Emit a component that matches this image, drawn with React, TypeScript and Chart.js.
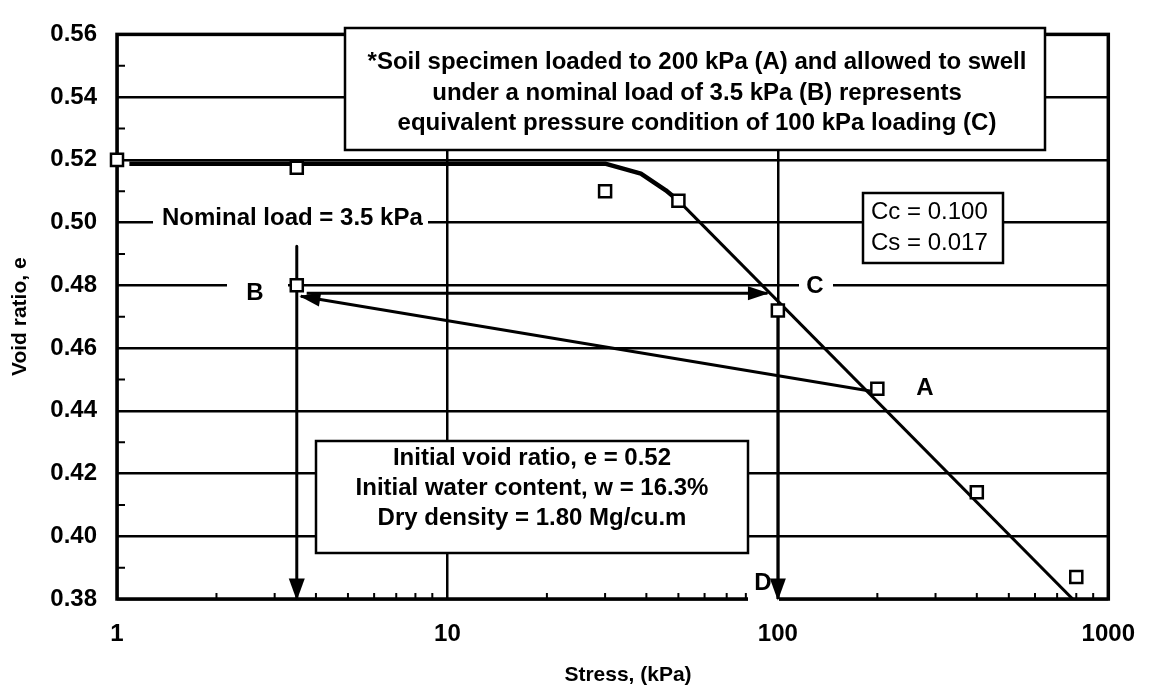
import React, { useEffect, useRef } from 'react';
import { Chart, registerables } from 'chart.js';

Chart.register(...registerables);

// ---- data ----
const stress = [1, 3.5, 30, 50, 100, 200, 400, 800, 3.5];
const voidRatio = [0.52, 0.5175, 0.51, 0.507, 0.472, 0.447, 0.414, 0.387, 0.48];

const loadCurveStress = [1.09, 30, 34, 38.5, 45.8, 50];
const loadCurveVoid = [0.5188, 0.5188, 0.5172, 0.5156, 0.5103, 0.507];

const virginStress = [50, 780];
const virginVoid = [0.507, 0.38];

const unloadStress = [190, 3.6];
const unloadVoid = [0.4463, 0.4765];

const reloadStress = [3.75, 93];
const reloadVoid = [0.4775, 0.4775];

const nominalStress = [3.5, 3.5];
const nominalVoid = [0.4925, 0.38];

const dStress = [100, 100];
const dVoid = [0.472, 0.38];

const xTickLabels = [1, 10, 100, 1000];
const yTickLabels = [0.38, 0.4, 0.42, 0.44, 0.46, 0.48, 0.5, 0.52, 0.54, 0.56];
const xMinorTicks = [2, 3, 4, 5, 6, 7, 8, 9, 20, 30, 40, 50, 60, 70, 80, 90, 200, 300, 400, 500, 600, 700, 800, 900];
const yMinorTicks = [0.39, 0.41, 0.43, 0.45, 0.47, 0.49, 0.51, 0.53, 0.55];

const xTitle = 'Stress, (kPa)';
const yTitle = 'Void ratio, e';

const noteLines = [
  '*Soil specimen loaded to 200 kPa (A) and allowed to swell',
  'under a nominal load of 3.5 kPa (B) represents',
  'equivalent pressure condition of 100 kPa loading (C)',
];
const coefLines = ['Cc = 0.100', 'Cs = 0.017'];
const initLines = ['Initial void ratio, e = 0.52', 'Initial water content, w = 16.3%', 'Dry density = 1.80 Mg/cu.m'];

// ---- layout / style ----
const FAMILY = '"Liberation Sans", Arial, Helvetica, sans-serif';
const W = 1156;
const H = 688;

const pts = (xs: number[], ys: number[]) => xs.map((v, i) => ({ x: v, y: ys[i] }));

function arrowHead(ctx: CanvasRenderingContext2D, tx: number, ty: number, fx: number, fy: number, len: number, half: number) {
  const a = Math.atan2(ty - fy, tx - fx);
  const c = Math.cos(a);
  const s = Math.sin(a);
  const px = tx + c * 1.5;
  const py = ty + s * 1.5;
  const bx = px - len * c;
  const by = py - len * s;
  ctx.beginPath();
  ctx.moveTo(px, py);
  ctx.lineTo(bx + half * s, by - half * c);
  ctx.lineTo(bx - half * s, by + half * c);
  ctx.closePath();
  ctx.fill();
}

const annotPlugin = {
  id: 'annot',
  beforeDatasetsDraw(chart: any) {
    const { ctx, chartArea: a, scales } = chart;
    const xs = scales.x;
    const ys = scales.y;
    ctx.save();
    ctx.strokeStyle = '#000';
    ctx.fillStyle = '#000';
    // minor ticks (inward)
    ctx.lineWidth = 2;
    ctx.beginPath();
    yMinorTicks.forEach((v) => {
      const py = ys.getPixelForValue(v);
      ctx.moveTo(a.left, py);
      ctx.lineTo(a.left + 8, py);
    });
    xMinorTicks.forEach((v) => {
      const px = xs.getPixelForValue(v);
      ctx.moveTo(px, a.bottom);
      ctx.lineTo(px, a.bottom - 6);
    });
    ctx.stroke();
    // frame
    ctx.lineWidth = 3.5;
    ctx.strokeRect(a.left, a.top, a.right - a.left, a.bottom - a.top);

    // axis titles
    ctx.fillStyle = '#000';
    ctx.font = `bold 21px ${FAMILY}`;
    ctx.textAlign = 'center';
    ctx.textBaseline = 'middle';
    ctx.fillText(xTitle, 628, 675);
    ctx.save();
    ctx.translate(20, (a.top + a.bottom) / 2);
    ctx.rotate(-Math.PI / 2);
    ctx.fillText(yTitle, 0, 0);
    ctx.restore();

    // white label backgrounds (break grid lines)
    ctx.fillStyle = '#fff';
    ctx.fillRect(153, 203, 275, 29); // nominal load
    ctx.fillRect(227, 268, 61, 40); // B
    ctx.fillRect(799, 268, 34, 32); // C
    ctx.fillRect(893, 372, 64, 38); // A
    ctx.fillRect(748, 566, 31, 40); // D

    // boxes
    const box = (x0: number, y0: number, x1: number, y1: number) => {
      ctx.fillStyle = '#fff';
      ctx.fillRect(x0, y0, x1 - x0, y1 - y0);
      ctx.lineWidth = 2.5;
      ctx.strokeStyle = '#000';
      ctx.strokeRect(x0, y0, x1 - x0, y1 - y0);
    };
    box(345, 28, 1045, 150);
    box(863, 193, 1003, 263);
    box(316, 441, 748, 553);

    ctx.fillStyle = '#000';
    ctx.textBaseline = 'middle';
    ctx.textAlign = 'center';
    ctx.font = `bold 24px ${FAMILY}`;
    const noteY = [62, 93, 123];
    noteLines.forEach((t, i) => ctx.fillText(t, 697, noteY[i]));
    const initY = [458, 488, 518];
    initLines.forEach((t, i) => ctx.fillText(t, 532, initY[i]));

    ctx.textAlign = 'left';
    ctx.font = `24px ${FAMILY}`;
    const coefY = [212, 243];
    coefLines.forEach((t, i) => ctx.fillText(t, 871, coefY[i]));

    ctx.font = `bold 24px ${FAMILY}`;
    ctx.fillText('Nominal load = 3.5 kPa', 162, 218);
    ctx.textAlign = 'center';
    ctx.fillText('B', 255, 293);
    ctx.fillText('C', 815, 286);
    ctx.fillText('A', 925, 388);
    ctx.fillText('D', 763, 583);
    ctx.restore();
  },
  afterDatasetsDraw(chart: any) {
    const { ctx, scales } = chart;
    const xs = scales.x;
    const ys = scales.y;
    ctx.save();
    ctx.fillStyle = '#000';
    const heads: [number[], number[], number, number][] = [
      [unloadStress, unloadVoid, 21, 7],
      [reloadStress, reloadVoid, 21, 7],
      [nominalStress, nominalVoid, 22, 8],
      [dStress, dVoid, 22, 8],
    ];
    heads.forEach(([sx, sy, len, half]) => {
      const n = sx.length - 1;
      arrowHead(
        ctx,
        xs.getPixelForValue(sx[n]),
        ys.getPixelForValue(sy[n]),
        xs.getPixelForValue(sx[n - 1]),
        ys.getPixelForValue(sy[n - 1]),
        len,
        half
      );
    });
    ctx.restore();
  },
};

export default function App() {
  const ref = useRef<HTMLCanvasElement>(null);

  useEffect(() => {
    document.body.style.margin = '0';
    const canvas = ref.current;
    if (!canvas) return;
    const lineDs = (xs: number[], ys: number[], width: number) => ({
      data: pts(xs, ys),
      showLine: true,
      pointRadius: 0,
      borderColor: '#000',
      backgroundColor: '#000',
      borderWidth: width,
      tension: 0,
      borderJoinStyle: 'round' as const,
      order: 1,
    });
    const tickFont = { family: FAMILY, size: 24, weight: 'bold' as const };
    const chart = new Chart(canvas, {
      type: 'scatter',
      data: {
        datasets: [
          {
            data: pts(stress, voidRatio),
            pointStyle: 'rect',
            pointRadius: 8.5,
            pointBorderWidth: 2.5,
            borderColor: '#000',
            pointBorderColor: '#000',
            pointBackgroundColor: '#fff',
            backgroundColor: '#fff',
            showLine: false,
            clip: false,
            order: 0,
          } as any,
          lineDs(loadCurveStress, loadCurveVoid, 4.5),
          lineDs(virginStress, virginVoid, 3),
          lineDs(unloadStress, unloadVoid, 3),
          lineDs(reloadStress, reloadVoid, 3),
          lineDs(nominalStress, nominalVoid, 3),
          lineDs(dStress, dVoid, 3),
        ],
      },
      options: {
        animation: false,
        responsive: false,
        devicePixelRatio: 1,
        layout: { padding: { top: 20, right: 40, bottom: 0, left: 0 } },
        plugins: { legend: { display: false }, tooltip: { enabled: false } },
        events: [],
        scales: {
          x: {
            type: 'logarithmic',
            min: 1,
            max: 1000,
            afterBuildTicks: (s: any) => {
              s.ticks = xTickLabels.map((v) => ({ value: v }));
            },
            afterFit: (s: any) => {
              s.height = 89;
            },
            ticks: {
              autoSkip: false,
              maxRotation: 0,
              color: '#000',
              font: tickFont,
              padding: 21,
              callback: (v: any) => String(v),
            },
            grid: { color: '#000', lineWidth: 2.5, drawTicks: false },
            border: { display: false },
            title: { display: false },
          },
          y: {
            type: 'linear',
            min: 0.38,
            max: 0.56,
            afterBuildTicks: (s: any) => {
              s.ticks = yTickLabels.map((v) => ({ value: v }));
            },
            afterFit: (s: any) => {
              s.width = 117;
            },
            ticks: {
              color: '#000',
              font: tickFont,
              padding: 20,
              callback: (v: any) => Number(v).toFixed(2),
            },
            grid: { color: '#000', lineWidth: 2.5, drawTicks: false },
            border: { display: false },
            title: { display: false },
          },
        },
      } as any,
      plugins: [annotPlugin],
    });
    return () => chart.destroy();
  }, []);

  return (
    <div style={{ position: 'fixed', left: 0, top: 0, width: W, height: H, background: '#fff' }}>
      <canvas ref={ref} width={W} height={H} style={{ width: W, height: H, display: 'block' }} />
    </div>
  );
}
